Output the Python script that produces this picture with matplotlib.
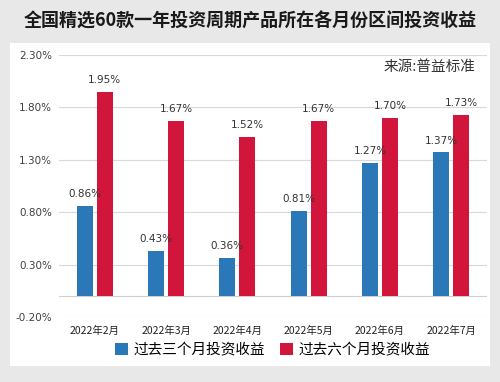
import numpy as np
import matplotlib
matplotlib.use("Agg")
import matplotlib.pyplot as plt
from matplotlib.patches import Patch

plt.rcParams['font.family'] = ['Noto Sans CJK SC', 'DejaVu Sans']

months = ["2022年2月", "2022年3月", "2022年4月", "2022年5月", "2022年6月", "2022年7月"]
past3 = [0.86, 0.43, 0.36, 0.81, 1.27, 1.37]
past6 = [1.95, 1.67, 1.52, 1.67, 1.70, 1.73]
yticks = [-0.20, 0.30, 0.80, 1.30, 1.80, 2.30]
series_names = ["过去三个月投资收益", "过去六个月投资收益"]

blue = "#2b78b8"
red = "#d2153b"

fig = plt.figure(figsize=(5, 3.82), dpi=100)
fig.patch.set_facecolor("#e8e8e8")

# white panel behind the chart
bg = fig.add_axes([10 / 500, 1 - 366 / 382, 480 / 500, 323 / 382], zorder=0)
bg.set_facecolor("white")
bg.set_xticks([])
bg.set_yticks([])
for s in bg.spines.values():
    s.set_visible(False)

fig.text(0.5, 1 - 21 / 382, "全国精选60款一年投资周期产品所在各月份区间投资收益",
         ha="center", va="center", fontsize=13, fontweight="bold", color="#1a1a1a")

ax = fig.add_axes([59 / 500, 1 - 317 / 382, 428 / 500, 262 / 382], zorder=1)
ax.set_facecolor("none")
x = np.arange(len(months))
w = 0.225
off = 0.14
ax.bar(x - off, past3, w, color=blue, zorder=3)
ax.bar(x + off, past6, w, color=red, zorder=3)

for xi, v in zip(x, past3):
    ax.annotate(f"{v:.2f}%", (xi - off, v), xytext=(0, 5), textcoords="offset points",
                ha="center", va="bottom", fontsize=7.5, color="#333333", family="DejaVu Sans")
for xi, v in zip(x, past6):
    ax.annotate(f"{v:.2f}%", (xi + off, v), xytext=(0, 5), textcoords="offset points",
                ha="center", va="bottom", fontsize=7.5, color="#333333", family="DejaVu Sans")

ax.set_xlim(-0.5, len(months) - 0.5)
ax.set_ylim(-0.2, 2.3)
ax.set_yticks(yticks)
ax.set_yticklabels([f"{t:.2f}%" for t in yticks], fontsize=7.5, color="#404040", family="DejaVu Sans")
ax.set_xticks(x)
ax.set_xticklabels(months, fontsize=7.5, color="#222222")
ax.tick_params(axis="x", length=0, pad=6)
ax.tick_params(axis="y", length=0, pad=5)
ax.grid(axis="y", color="#d9d9d9", linewidth=0.8, zorder=0)
ax.axhline(0, color="#d0d0d0", linewidth=0.8, zorder=1)
for s in ax.spines.values():
    s.set_visible(False)

ax.text(0.974, 0.954, "来源:普益标准", transform=ax.transAxes, ha="right", va="center",
        fontsize=10.5, color="#333333")

handles = [Patch(facecolor=blue), Patch(facecolor=red)]
fig.legend(handles, series_names, loc="center", bbox_to_anchor=(0.545, 1 - 350 / 382),
           ncol=2, frameon=False, fontsize=10.5, handlelength=0.9, handleheight=0.9,
           handletextpad=0.35, columnspacing=1.0, borderaxespad=0)

fig.savefig("out.png", dpi=100, facecolor=fig.get_facecolor())
